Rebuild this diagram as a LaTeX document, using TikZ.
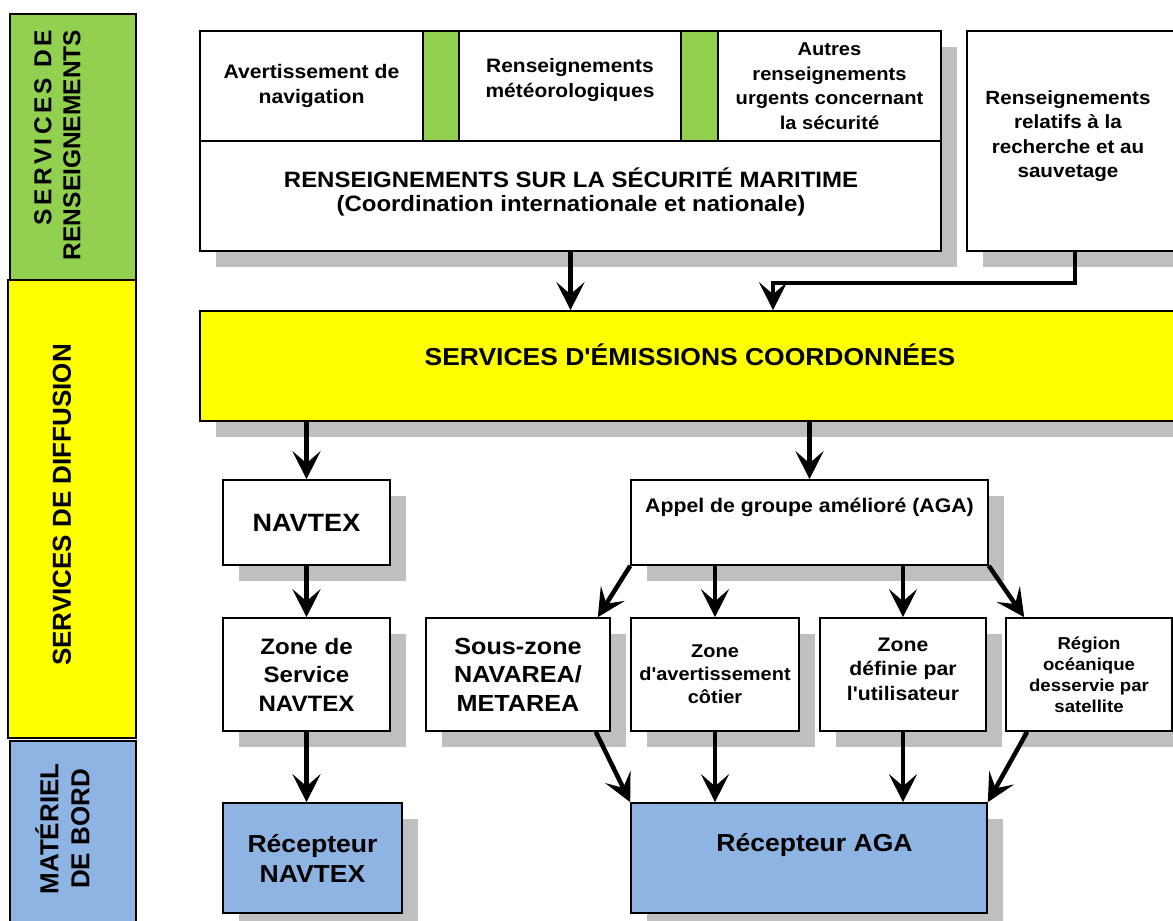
\documentclass[tikz,border=0pt]{standalone}
\usepackage{fontspec}
\setmainfont{Liberation Sans}[FakeStretch=1.08, Ligatures=TeXOff]
\newfontfamily\rotfont{Liberation Sans}[Ligatures=TeXOff]
\usetikzlibrary{arrows.meta,shadows}
\definecolor{grn}{HTML}{92D050}
\definecolor{yel}{HTML}{FFFF00}
\definecolor{blu}{HTML}{8DB4E2}
\definecolor{shd}{HTML}{BFBFBF}
\newcommand\myfs[2]{\fontsize{#1pt}{#2pt}\selectfont\bfseries}
\newcommand\myrfs[2]{\rotfont\fontsize{#1pt}{#2pt}\selectfont\bfseries}
\begin{document}
\begin{tikzpicture}[x=1pt,y=-1pt,
  box/.style={draw=black, line width=1.6pt, fill=white, inner sep=0pt, align=center},
  shad/.style={drop shadow={shadow xshift=16pt, shadow yshift=-16pt, fill=shd, opacity=1}},
  txt/.style={align=center, inner sep=0pt},
  arr/.style={line width=4.5pt, -{Stealth[length=28pt,width=28pt,inset=12pt]}},
  side/.style={draw=black, line width=1.6pt, inner sep=0pt},
  ]
\useasboundingbox (0,0) rectangle (1173,921);
\clip (0,0) rectangle (1173,921);

% sidebar
\node[side, fill=grn, minimum width=126pt, minimum height=266pt] (sg) at (73,147) {};
\node[side, fill=yel, minimum width=128pt, minimum height=458pt] (sy) at (72,509) {};
\node[side, fill=blu, minimum width=126pt, minimum height=190pt] (sb) at (73,836) {};
\node[rotate=90, align=right, inner sep=0pt, font={\myrfs{24.5}{29}}] (tg) at (57.5,145) {{\addfontfeatures{LetterSpace=14}SERVICES DE}\\RENSEIGNEMENTS};
\node[rotate=90, inner sep=0pt, font={\myrfs{26}{31}}] (ty) at (62,505) {SERVICES DE DIFFUSION};
\node[rotate=90, align=center, inner sep=0pt, font={\myrfs{26}{31}}] (tb) at (62.5,829) {MATÉRIEL\\DE BORD};

% MSI block
\node[box, shad, minimum width=741pt, minimum height=220pt] (msi) at (570.5,141) {};
\node[box, minimum width=223pt, minimum height=110pt, font={\myfs{19.6}{25}}] (c1) at (311.5,86) {Avertissement de\\navigation};
\node[box, fill=grn, minimum width=36pt, minimum height=110pt] (s1) at (441,86) {};
\node[box, minimum width=222pt, minimum height=110pt] (c2) at (570,86) {};
\node[txt, font={\myfs{19.4}{24.5}}] (t2) at (570,80) {Renseignements\\météorologiques};
\node[box, fill=grn, minimum width=37pt, minimum height=110pt] (s2) at (699.5,86) {};
\node[box, minimum width=223pt, minimum height=110pt, font={\myfs{18.6}{24.5}}] (c3) at (829.5,86) {Autres\\renseignements\\urgents concernant\\la sécurité};
\node[box, minimum width=741pt, minimum height=110pt] (ttl) at (570.5,196) {};
\node[txt, font={\myfs{22.2}{24}}] (tt) at (571,192) {RENSEIGNEMENTS SUR LA SÉCURITÉ MARITIME\\(Coordination internationale et nationale)};

% SAR box
\node[box, shad, minimum width=216pt, minimum height=220pt] (rsar) at (1075,141) {};
\node[txt, font={\myfs{19.1}{24.5}}] (tr) at (1068,136) {Renseignements\\relatifs à la\\recherche et au\\sauvetage};

% broadcast
\node[box, shad, fill=yel, minimum width=990pt, minimum height=110pt] (emis) at (695,366) {};
\node[txt, font={\myfs{24.5}{28}}] (te) at (690,355) {SERVICES D'ÉMISSIONS COORDONNÉES};

\node[box, shad, minimum width=167pt, minimum height=85pt, font={\myfs{25}{28}}] (navtex) at (306.5,522.5) {NAVTEX};
\node[box, shad, minimum width=357pt, minimum height=85pt] (aga) at (809.5,522.5) {};
\node[txt, font={\myfs{19.7}{24}}] (ta) at (809.5,507) {Appel de groupe amélioré (AGA)};

\node[box, shad, minimum width=167pt, minimum height=113pt, font={\myfs{22.3}{28.5}}] (zsn) at (306.5,674.5) {Zone de\\Service\\NAVTEX};
\node[box, shad, minimum width=184pt, minimum height=113pt, font={\myfs{23.3}{28.5}}] (szn) at (518,674.5) {Sous-zone\\NAVAREA/\\METAREA};
\node[box, shad, minimum width=168pt, minimum height=113pt, font={\myfs{18.5}{23}}] (zac) at (715,674.5) {Zone\\d'avertissement\\côtier};
\node[box, shad, minimum width=166pt, minimum height=113pt] (zdu) at (903,674.5) {};
\node[txt, font={\myfs{19.6}{24.5}}] (tz) at (903,669) {Zone\\définie par\\l'utilisateur};
\node[box, shad, minimum width=166pt, minimum height=113pt, font={\myfs{17.2}{21}}] (roc) at (1089,674.5) {Région\\océanique\\desservie par\\satellite};

% receivers
\node[box, shad, fill=blu, minimum width=179pt, minimum height=110pt, font={\myfs{24.6}{30}}] (rnav) at (312.5,858) {Récepteur\\NAVTEX};
\node[box, shad, fill=blu, minimum width=356pt, minimum height=110pt] (ragb) at (809,858) {};
\node[txt, font={\myfs{24.6}{28}}] (tra) at (814.5,845) {Récepteur AGA};

% arrows
\draw[arr] (msi.south) -- (msi.south |- emis.north);
\draw[arr] (rsar.south) -- ++(0,31) -| ([xshift=78pt]emis.north);
\draw[arr] (emis.south -| navtex.north) -- (navtex.north);
\draw[arr] (emis.south -| aga.north) -- (aga.north);
\draw[arr] (navtex.south) -- (zsn.north);
\draw[arr] (zsn.south) -- (zsn.south |- rnav.north);
\draw[arr] (aga.south west) -- ([xshift=-13pt]szn.north east);
\draw[arr] (zac.north |- aga.south) -- (zac.north);
\draw[arr] (zdu.north |- aga.south) -- (zdu.north);
\draw[arr] (aga.south east) -- ([xshift=19pt]roc.north west);
\draw[arr] ([xshift=-15pt]szn.south east) -- (ragb.north west);
\draw[arr] (zac.south) -- (zac.south |- ragb.north);
\draw[arr] (zdu.south) -- (zdu.south |- ragb.north);
\draw[arr] ([xshift=22pt]roc.south west) -- (ragb.north east);
\end{tikzpicture}
\end{document}
